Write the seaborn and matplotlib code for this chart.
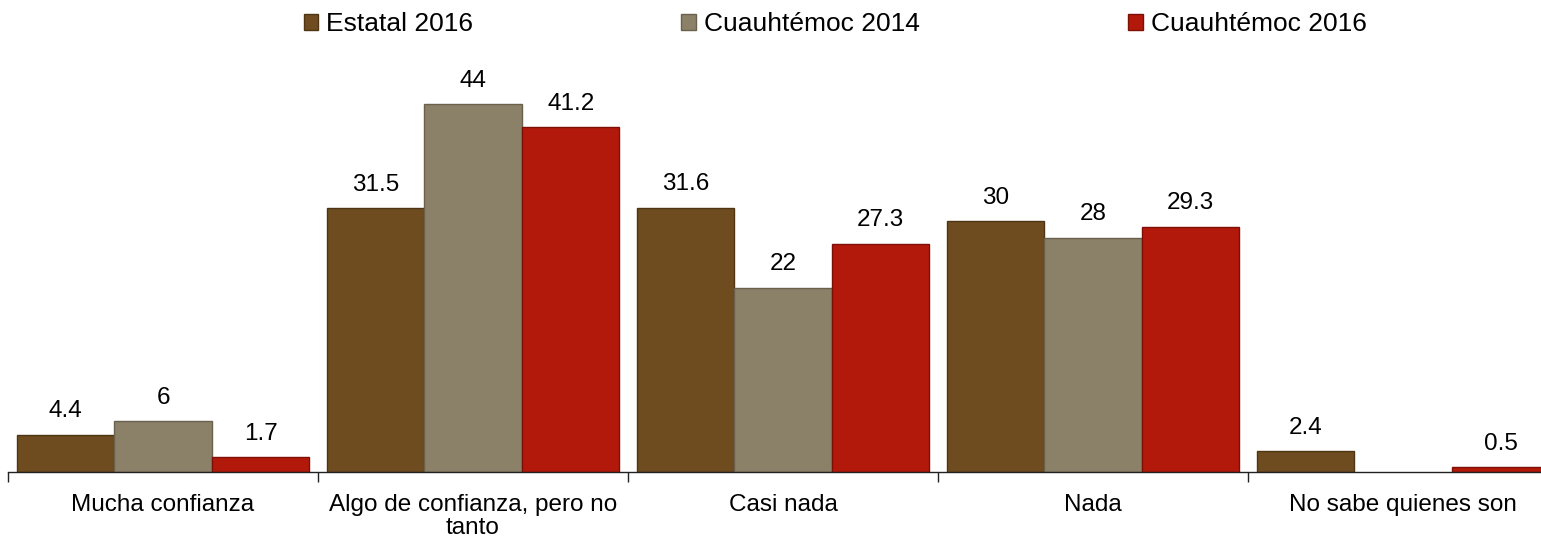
import matplotlib
matplotlib.use("Agg")
import matplotlib.pyplot as plt
import seaborn as sns
import pandas as pd
import numpy as np
from matplotlib.patches import Patch

categories = ["Mucha confianza", "Algo de confianza, pero no\ntanto", "Casi nada", "Nada", "No sabe quienes son"]
series = ["Estatal 2016", "Cuauhtémoc 2014", "Cuauhtémoc 2016"]
estatal_2016 = [4.4, 31.5, 31.6, 30, 2.4]
cuauhtemoc_2014 = [6, 44, 22, 28, np.nan]
cuauhtemoc_2016 = [1.7, 41.2, 27.3, 29.3, 0.5]
colors = ["#6E4C1F", "#8B8068", "#B3190B"]
edge_colors = ["#4E3412", "#6A604C", "#7E0F05"]

rows = []
for s, vals in zip(series, [estatal_2016, cuauhtemoc_2014, cuauhtemoc_2016]):
    for c, v in zip(categories, vals):
        rows.append({"Categoria": c, "Serie": s, "Valor": v})
df = pd.DataFrame(rows)

sns.set_theme(style="white")
plt.rcParams["font.family"] = ["Liberation Sans", "DejaVu Sans"]
plt.rcParams["text.color"] = "black"

fig = plt.figure(figsize=(15.41, 5.39), dpi=100)
ax = fig.add_axes([8 / 1541, 67.5 / 539, 1550 / 1541, 417.5 / 539])

sns.barplot(data=df, x="Categoria", y="Valor", hue="Serie", order=categories,
            hue_order=series, palette=colors, width=0.945, ax=ax,
            legend=False, saturation=1, errorbar=None)

for cont, ec in zip(ax.containers, edge_colors):
    for bar in cont:
        bar.set_edgecolor(ec)
        bar.set_linewidth(1.0)
    ax.bar_label(cont, fmt="{:g}", padding=9, fontsize=17.5, color="black")

ax.set_xlim(-0.5, 4.5)
ax.set_ylim(0, 50)
ax.set_xlabel("")
ax.set_ylabel("")
ax.set_yticks([])
for sp in ["top", "left", "right"]:
    ax.spines[sp].set_visible(False)
ax.spines["bottom"].set_color("#222222")
ax.spines["bottom"].set_linewidth(1.0)
ax.tick_params(axis="x", which="major", length=0, labelsize=17.5, pad=16, labelcolor="black")
for lbl in ax.get_xticklabels():
    lbl.set_linespacing(1.05)
ax.set_xticks(np.arange(-0.5, 5.0, 1.0), minor=True)
ax.tick_params(axis="x", which="minor", length=7, width=1, color="#222222", direction="out", bottom=True)

handles = [Patch(facecolor=c, edgecolor=e, label=s) for c, e, s in zip(colors, edge_colors, series)]
leg = fig.legend(handles=handles, loc="center", bbox_to_anchor=(835 / 1541, 1 - 24 / 539), ncol=3,
                 frameon=False, fontsize=19, handlelength=0.55, handleheight=0.55,
                 handletextpad=0.3, columnspacing=7.9, borderpad=0)
for t in leg.get_texts():
    t.set_color("black")

fig.savefig("out.png", dpi=100, facecolor="white")
